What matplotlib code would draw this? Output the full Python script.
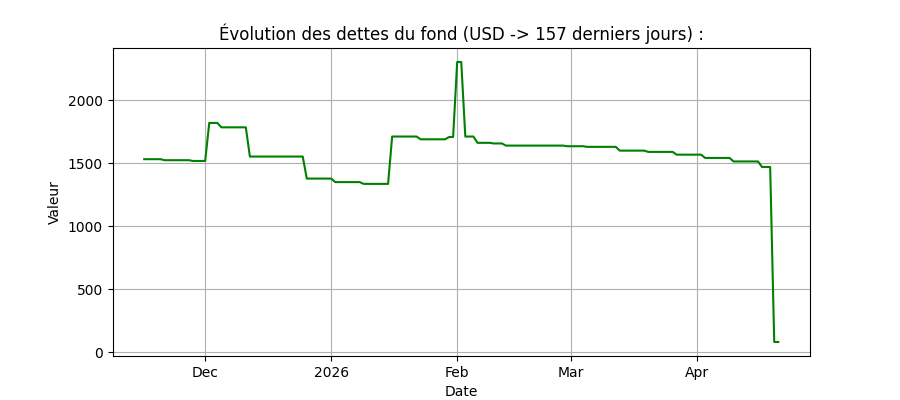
import numpy as np
import pandas as pd
import matplotlib
matplotlib.use("Agg")
import matplotlib.pyplot as plt
import matplotlib.dates as mdates

# debt level steps (value, number of days it stays there)
levels = [1532, 1524, 1518, 1820, 1785, 1553, 1378, 1350, 1336, 1712, 1690, 1708, 2304,
          1712, 1662, 1657, 1640, 1635, 1630, 1600, 1590, 1568, 1542, 1514, 1470, 80]
days = [5, 7, 4, 3, 7, 14, 7, 7, 7, 7, 7, 2, 2,
        3, 4, 3, 15, 5, 8, 7, 7, 7, 7, 7, 3, 2]

values = np.repeat(levels, days)
dates = pd.date_range("2025-11-16", periods=len(values), freq="D")

fig, ax = plt.subplots(figsize=(9, 4), dpi=100)
ax.plot(dates, values, color="green", linewidth=1.5)

loc = mdates.AutoDateLocator()
fmt = mdates.ConciseDateFormatter(loc, offset_formats=["", "", "", "", "", ""])
ax.xaxis.set_major_locator(loc)
ax.xaxis.set_major_formatter(fmt)

ax.set_title("Évolution des dettes du fond (USD -> 157 derniers jours) :")
ax.set_xlabel("Date")
ax.set_ylabel("Valeur")
ax.grid(True)

fig.savefig("out.png")
